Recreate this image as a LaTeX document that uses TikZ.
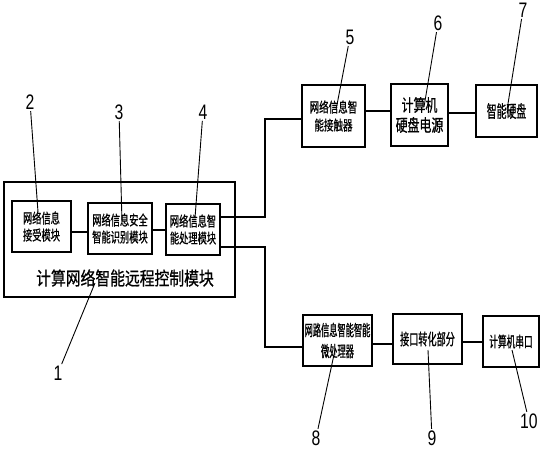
\documentclass[tikz,border=0pt]{standalone}
\usepackage{fontspec}
\newfontfamily\cjk{Noto Sans CJK SC}
\newfontfamily\numf[FakeStretch=0.75]{Liberation Sans}
\newcommand\cjkf[3]{\cjk\fontsize{#1}{#2}\selectfont\addfontfeatures{FakeStretch=#3,FakeBold=0.8}}
\begin{document}
\begin{tikzpicture}[x=1pt,y=-1pt,
  box/.style={draw, line width=1.5pt, inner sep=0pt, align=center},
  conn/.style={line width=1.8pt},
  lead/.style={line width=0.9pt},
  num/.style={inner sep=1.5pt, font=\numf\fontsize{21}{21}\selectfont}]
\useasboundingbox[fill=white] (0,0) rectangle (542,450);
% outer module
\node[box, minimum width=231pt, minimum height=115pt] (outer) at (119.5,239.5) {};
\node[font=\cjkf{18.5}{20}{0.8}] (title) at (125,278) {计算网络智能远程控制模块};
% inner modules
\node[box, minimum width=59pt, minimum height=51pt, font=\cjkf{14}{17}{0.66}] (b2) at (41.5,226.5) {网络信息\\接受模块};
\node[box, minimum width=64pt, minimum height=51pt, font=\cjkf{14}{17}{0.66}] (b3) at (120,228.5) {网络信息安全\\智能识别模块};
\node[box, minimum width=54pt, minimum height=51pt, font=\cjkf{14}{17}{0.66}] (b4) at (193,229.5) {网络信息智\\能处理模块};
% upper chain
\node[box, minimum width=63pt, minimum height=62pt, font=\cjkf{14}{18}{0.68}] (b5) at (333.5,116) {网络信息智\\能接触器};
\node[box, minimum width=57pt, minimum height=62pt, font=\cjkf{17}{20}{0.7}] (b6) at (419.5,115) {计算机\\硬盘电源};
\node[box, minimum width=61pt, minimum height=52pt, font=\cjkf{17}{20}{0.58}] (b7) at (506.5,111) {智能硬盘};
% lower chain
\node[box, minimum width=69pt, minimum height=51pt, font=\cjkf{15.5}{21}{0.53}] (b8) at (337.5,340.5) {网路信息智能智能\\微处理器};
\node[box, minimum width=69pt, minimum height=50pt, font=\cjkf{16}{18}{0.57}] (b9) at (427.5,339) {接口转化部分};
\node[box, minimum width=56pt, minimum height=51pt, font=\cjkf{15}{18}{0.58}] (b10) at (511,341.5) {计算机串口};
% connectors
\draw[conn] (b2.east |- 0,232) -- (b3.west |- 0,232);
\draw[conn] (b3.east |- 0,230) -- (b4.west |- 0,230);
\coordinate (jn) at (265,217);
\coordinate (js) at (265,247);
\draw[conn] (b4.east |- jn) -- (jn) |- (b5.west |- 0,119);
\draw[conn] (b4.east |- js) -- (js) |- (b8.west |- 0,347);
\draw[conn] (b5.east |- 0,111) -- (b6.west |- 0,111);
\draw[conn] (b6.east |- 0,113) -- (b7.west |- 0,113);
\draw[conn] (b8.east |- 0,344) -- (b9.west |- 0,344);
\draw[conn] (b9.east |- 0,342) -- (b10.west |- 0,342);
% reference numbers
\node[num] (l1) at (58,373) {1};
\node[num] (l2) at (30,102) {2};
\node[num] (l3) at (119,112) {3};
\node[num] (l4) at (203,112) {4};
\node[num] (l5) at (350,37) {5};
\node[num] (l6) at (438,23) {6};
\node[num] (l7) at (523,10) {7};
\node[num] (l8) at (316,438) {8};
\node[num] (l9) at (432,438) {9};
\node[num] (l10) at (529,421) {10};
\coordinate (e1) at (95,283);
\coordinate (e2) at (38,212);
\coordinate (e3) at (122,222);
\coordinate (e4) at (195,218);
\coordinate (e5) at (336,110);
\coordinate (e6) at (424,107);
\coordinate (e7) at (507,110);
\coordinate (e8) at (335,350);
\coordinate (e9) at (428,350);
\coordinate (e10) at (512,350);
\foreach \i in {1,...,10} {\draw[lead] (l\i) -- (e\i);}
\end{tikzpicture}
\end{document}
